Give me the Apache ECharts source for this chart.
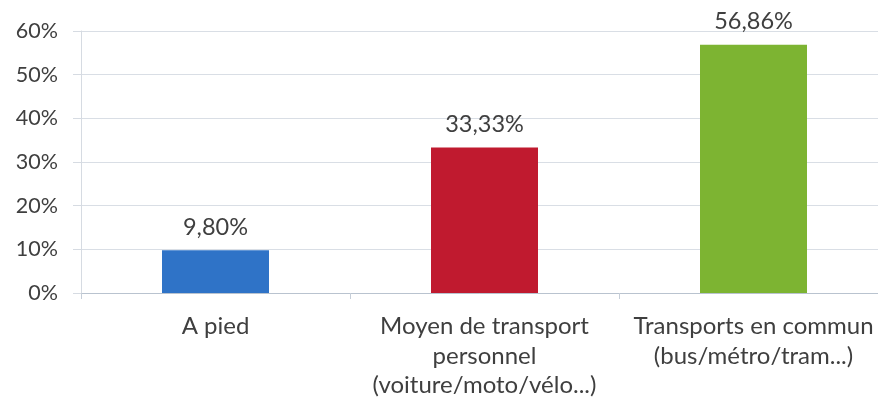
<!DOCTYPE html>
<html>
<head>
<meta charset="utf-8">
<script src="https://cdn.jsdelivr.net/npm/echarts@6/dist/echarts.min.js"></script>
<style>
  html, body { margin: 0; padding: 0; background: #ffffff; }
  #chart { width: 878px; height: 403px; }
</style>
</head>
<body>
<div id="chart"></div>
<script>
// Mode de déplacement — parts en pourcentage
const categories = [
  'A pied',
  'Moyen de transport\npersonnel\n(voiture/moto/vélo...)',
  'Transports en commun\n(bus/métro/tram...)'
];
const values = [9.80, 33.33, 56.86];
const barColors = ['#2f73c7', '#c01a2f', '#7db432'];
const yTicks = [0, 10, 20, 30, 40, 50, 60];

const fontFamily = 'Lato, "Open Sans", sans-serif';
const textColor = '#3f3f3f';

const chart = echarts.init(document.getElementById('chart'), null, { renderer: 'canvas' });

chart.setOption({
  animation: false,
  textStyle: { fontFamily: fontFamily },
  // the plot runs a little past the right edge of the canvas
  grid: {
    left: 81, width: 807, top: 31, bottom: 110,
    containLabel: false,
    outerBoundsMode: 'none'
  },
  xAxis: {
    type: 'category',
    data: categories,
    axisLine: { lineStyle: { color: '#b9c3cf', width: 1 } },
    axisTick: { show: true, alignWithLabel: false, length: 6, lineStyle: { color: '#c6ced8' } },
    axisLabel: {
      color: textColor,
      fontSize: 24,
      fontFamily: fontFamily,
      lineHeight: 29.5,
      margin: 19,
      interval: 0
    }
  },
  yAxis: {
    type: 'value',
    min: yTicks[0],
    max: yTicks[yTicks.length - 1],
    interval: 10,
    axisLine: { show: true, lineStyle: { color: '#d6dbe2', width: 1 } },
    axisTick: { show: true, length: 8, lineStyle: { color: '#d6dbe2' } },
    splitLine: { show: true, lineStyle: { color: '#d9dee5', width: 1 } },
    axisLabel: {
      color: textColor,
      fontSize: 21.5,
      fontFamily: fontFamily,
      margin: 23,
      formatter: v => v + '%'
    }
  },
  series: [{
    type: 'bar',
    barWidth: 107,
    data: values.map((v, i) => ({ value: v, itemStyle: { color: barColors[i] } })),
    label: {
      show: true,
      position: 'top',
      distance: 11,
      color: textColor,
      fontSize: 23.5,
      fontFamily: fontFamily,
      formatter: p => p.value.toFixed(2).replace('.', ',') + '%'
    }
  }]
});
</script>
</body>
</html>
